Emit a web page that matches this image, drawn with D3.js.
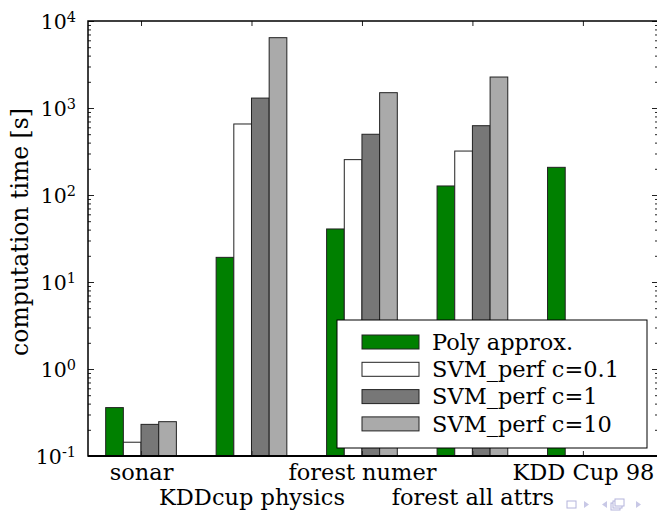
<!DOCTYPE html>
<html>
<head>
<meta charset="utf-8">
<script src="https://cdn.jsdelivr.net/npm/d3@7"></script>
<style>
  body { margin: 0; background: #fff; }
  svg { display: block; }
  svg text { font-family: "DejaVu Serif", "Liberation Serif", serif; }
</style>
</head>
<body>
<svg id="chart" width="657" height="513"></svg>
<script>
// data
const categories = ["sonar", "KDDcup physics", "forest numer", "forest all attrs", "KDD Cup 98"];
const seriesNames = ["Poly approx.", "SVM_perf c=0.1", "SVM_perf c=1", "SVM_perf c=10"];
const polyApprox = [0.36, 19.2, 40.7, 127, 208];
const svmC01 = [0.144, 655, 255, 320, null];
const svmC1 = [0.231, 1300, 499, 626, null];
const svmC10 = [0.248, 6430, 1500, 2270, null];
const yMajor = [0.1, 1, 10, 100, 1000, 10000];
const yExp = ["-1", "0", "1", "2", "3", "4"];

const series = [polyApprox, svmC01, svmC1, svmC10];
const colors = ["#008000", "#ffffff", "#777777", "#aaaaaa"];

const svg = d3.select("#chart");
const pLeft = 88, pRight = 658, pTop = 21, pBottom = 456;

// measure the serif we got, so "KDDcup physics" comes out ~186px wide
let probe = svg.append("text").attr("font-size", 22.5).text("KDDcup physics");
let fk = 186 / probe.node().getComputedTextLength();
probe.remove();
const fs = s => s * fk;

// x in "category units", like the original bar offsets
const x = d3.scaleLinear().domain([-0.48, 4.68]).range([pLeft, pRight]);
const y = d3.scaleLog().domain([0.1, 10000]).range([pBottom, pTop]);
const barW = 0.16;

// minor ticks 2..9 in every decade
let yMinor = [];
for (let e = -1; e < 4; e++) {
  for (let k = 2; k <= 9; k++) yMinor.push(k * Math.pow(10, e));
}

// bars
series.forEach(function (vals, j) {
  svg.append("g")
    .selectAll("rect")
    .data(vals.map((v, i) => ({ v: v, i: i })).filter(d => d.v != null))
    .join("rect")
    .attr("x", d => x(d.i - 0.32 + j * barW))
    .attr("y", d => y(d.v))
    .attr("width", x(barW) - x(0))
    .attr("height", d => pBottom - y(d.v))
    .attr("fill", colors[j])
    .attr("stroke", "#222")
    .attr("stroke-width", 1);
});

// axes, ticks pointing inward
function tickStyle(g) {
  g.select(".domain").remove();
  g.attr("font-family", null);
  g.selectAll("line").attr("stroke", "#222").attr("stroke-width", 1);
}

svg.append("g").attr("transform", `translate(${pLeft},0)`)
  .call(d3.axisLeft(y).tickValues(yMinor).tickSize(-3).tickFormat(""))
  .call(tickStyle);
svg.append("g").attr("transform", `translate(${pRight},0)`)
  .call(d3.axisRight(y).tickValues(yMinor).tickSize(-3).tickFormat(""))
  .call(tickStyle);
svg.append("g").attr("transform", `translate(${pRight},0)`)
  .call(d3.axisRight(y).tickValues(yMajor).tickSize(-6).tickFormat(""))
  .call(tickStyle);

let yAx = svg.append("g").attr("transform", `translate(${pLeft},0)`)
  .call(d3.axisLeft(y).tickValues(yMajor).tickSize(-6).tickPadding(12))
  .call(tickStyle);
yAx.selectAll("text").each(function (d, i) {
  let t = d3.select(this);
  t.text(null)
    .attr("font-size", fs(20.5))
    .attr("fill", "#000")
    .attr("dy", "0.35em");
  t.append("tspan").text("10");
  t.append("tspan").attr("dy", "-0.45em").attr("font-size", fs(14.5)).text(yExp[i]);
});

svg.append("g").attr("transform", `translate(0,${pTop})`)
  .call(d3.axisTop(x).tickValues(d3.range(categories.length)).tickSize(-5).tickFormat(""))
  .call(tickStyle);
let xAx = svg.append("g").attr("transform", `translate(0,${pBottom})`)
  .call(d3.axisBottom(x).tickValues(d3.range(categories.length)).tickSize(-5)
    .tickFormat(i => categories[i]))
  .call(tickStyle);
xAx.selectAll("text")
  .attr("font-size", fs(22.5))
  .attr("fill", "#000")
  .attr("dy", null)
  .attr("y", (d, i) => i % 2 === 0 ? 24 : 49);

// frame
svg.append("rect")
  .attr("x", pLeft).attr("y", pTop)
  .attr("width", pRight - pLeft).attr("height", pBottom - pTop)
  .attr("fill", "none").attr("stroke", "#000").attr("stroke-width", 1.5);
svg.append("line")
  .attr("x1", pLeft).attr("x2", pRight).attr("y1", pBottom).attr("y2", pBottom)
  .attr("stroke", "#000").attr("stroke-width", 2);

// y label
svg.append("text")
  .attr("transform", `translate(28,232) rotate(-90)`)
  .attr("text-anchor", "middle")
  .attr("font-size", fs(23.5))
  .text("computation time [s]");

// legend
const lg = svg.append("g").attr("transform", "translate(337,320)");
lg.append("rect").attr("width", 310).attr("height", 128)
  .attr("fill", "#fff").attr("stroke", "#000").attr("stroke-width", 1);
seriesNames.forEach(function (name, j) {
  let cy = 22 + j * 27.3;
  lg.append("rect").attr("x", 25).attr("y", cy - 7).attr("width", 57).attr("height", 14)
    .attr("fill", colors[j]).attr("stroke", "#222").attr("stroke-width", 1);
  lg.append("text").attr("x", 95).attr("y", cy).attr("dy", "0.35em")
    .attr("font-size", fs(22.5)).text(name);
});

// beamer navigation symbols
const nav = svg.append("g").attr("fill", "none").attr("stroke", "#b4b4dc").attr("stroke-width", 1);
nav.append("rect").attr("x", 567).attr("y", 501).attr("width", 9).attr("height", 7);
nav.append("path").attr("d", "M584,501 L589,504.5 L584,508 Z").attr("fill", "#c8c8e6").attr("stroke", "none");
nav.append("path").attr("d", "M607,501 L602,504.5 L607,508 Z").attr("fill", "#c8c8e6").attr("stroke", "none");
nav.append("rect").attr("x", 611).attr("y", 503).attr("width", 9).attr("height", 7).attr("fill", "#fff");
nav.append("rect").attr("x", 613).attr("y", 501).attr("width", 9).attr("height", 7).attr("fill", "#fff");
nav.append("rect").attr("x", 615).attr("y", 499).attr("width", 9).attr("height", 7).attr("fill", "#fff");
nav.append("path").attr("d", "M636,501 L641,504.5 L636,508 Z").attr("fill", "#c8c8e6").attr("stroke", "none");
</script>
</body>
</html>
